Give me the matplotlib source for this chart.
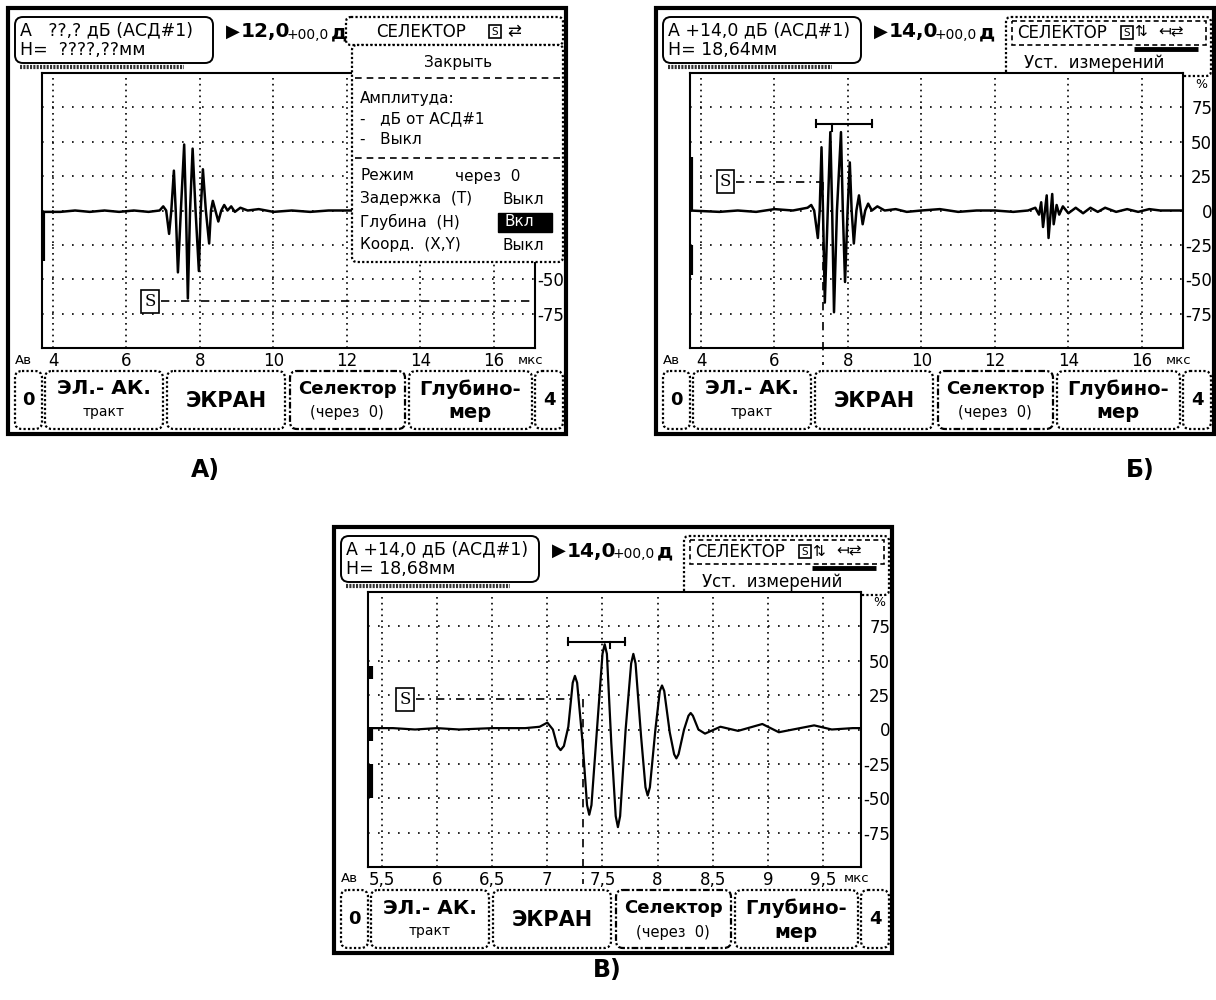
import matplotlib.pyplot as plt
from matplotlib.patches import Rectangle, FancyBboxPatch

# ---- values ----
ticks_ab = [4, 6, 8, 10, 12, 14, 16]
tick_labels_ab = ['4', '6', '8', '10', '12', '14', '16']
ticks_c = [5.5, 6, 6.5, 7, 7.5, 8, 8.5, 9, 9.5]
tick_labels_c = ['5,5', '6', '6,5', '7', '7,5', '8', '8,5', '9', '9,5']
amp_ticks = [75, 50, 25, 0, -25, -50, -75]
amp_labels = ['75', '50', '25', '0', '-25', '-50', '-75']
lim_ab = (3.70, 17.12)
lim_c = (5.373, 9.845)

# A-scan traces: time, us / amplitude, %
t_a = [3.70, 4.2, 4.6, 5.0, 5.4, 5.8, 6.2, 6.6, 6.9, 7.0, 7.08, 7.16, 7.22, 7.29, 7.34,
       7.40, 7.48, 7.57, 7.62, 7.67, 7.73, 7.80, 7.88, 7.97, 8.02, 8.08, 8.16, 8.25, 8.30,
       8.35, 8.42, 8.50, 8.58, 8.66, 8.75, 8.85, 8.95, 9.1, 9.3, 9.6, 10.0, 10.5, 11.0,
       11.5, 12.0, 13.0, 14.0, 15.0, 16.0, 17.12]
amp_a = [-1, -1, 0, -1, 0, -1, 0, -1, 0, 3, 0, -17, 0, 29, 0,
         -45, 0, 48, 0, -64, 0, 45, 0, -44, 0, 30, 0, -24, 0,
         7, 0, -8, 0, 4, 0, 3, -1, 2, 0, 1, -1, 0, -1,
         0, 0, 0, 0, 0, 0, 0]

t_b = [3.70, 4.5, 5.0, 5.5, 6.0, 6.5, 6.9, 7.0, 7.08, 7.18, 7.23, 7.28, 7.32, 7.37, 7.45,
       7.52, 7.57, 7.62, 7.70, 7.81, 7.86, 7.92, 7.99, 8.05, 8.10, 8.16, 8.23, 8.30, 8.35,
       8.40, 8.47, 8.55, 8.65, 8.8, 9.0, 9.3, 9.6, 10.0, 10.5, 11.0, 11.5, 12.0, 12.5,
       12.9, 13.1, 13.2, 13.26, 13.31, 13.41, 13.46, 13.56, 13.60, 13.68, 13.75, 13.85,
       14.0, 14.2, 14.4, 14.6, 14.8, 15.0, 15.3, 15.6, 15.9, 16.2, 16.5, 17.12]
amp_b = [0, -1, 0, -1, 1, 0, 2, 4, 0, -20, 0, 46, 0, -67, 0,
         57, 0, -74, 0, 57, 0, -52, 0, 35, 0, -24, 0, 11, 0,
         -10, 0, 5, 0, 3, 0, 1, -1, 0, 1, -1, 0, 0, -1,
         0, 2, -3, 6, -12, 11, -20, 12, -10, 4, -3, 3,
         -2, 2, -2, 2, -1, 2, -1, 1, -1, 1, 0, 0]

t_c = [5.373, 5.6, 5.8, 6.0, 6.2, 6.5, 6.8, 6.93, 7.00, 7.05, 7.09, 7.12, 7.15, 7.19,
       7.23, 7.25, 7.27, 7.32, 7.36, 7.38, 7.40, 7.45, 7.50, 7.52, 7.54, 7.58, 7.62, 7.64,
       7.66, 7.71, 7.76, 7.78, 7.80, 7.85, 7.89, 7.91, 7.93, 7.98, 8.02, 8.04, 8.06, 8.11,
       8.15, 8.17, 8.19, 8.24, 8.28, 8.30, 8.32, 8.37, 8.43, 8.57, 8.73, 8.95, 9.1, 9.42,
       9.58, 9.77, 9.845]
amp_c = [1, 1, 0, 1, 0, 1, 1, 2, 5, 0, -12, -15, -12, 2,
         34, 39, 34, -10, -55, -62, -55, 0, 55, 62, 55, -10, -63, -71,
         -63, 0, 48, 55, 48, -5, -42, -48, -42, 0, 28, 32, 28, -2,
         -18, -21, -18, 0, 10, 12, 10, 0, -3, 2, -1, 4, -2, 3,
         0, 1, 1]

# short marks at the left edge of each trace (start, end amplitude)
edge_a = [(0, -37)]
edge_b = [(39, 0), (-25, -47)]
edge_c = [(46, 37), (2, -8), (-25, -50)]

# selector gate: S marker time, gate level, gate end time
gate_a = (6.64, -66, 17.12)
gate_b = (4.67, 21, 7.27)
gate_c = (5.71, 22, 7.25)
cursor_t = 7.32                   # vertical gate line (B, C)
bracket_b = (7.12, 8.66, 7.57, 63)
bracket_c = (7.19, 7.70, 7.57, 64)

W, H = 1216, 1000
PW, PH = 558, 426

fig = plt.figure(figsize=(W / 100, H / 100), dpi=100)
bg = fig.add_axes([0, 0, 1, 1], zorder=0)
bg.set_xlim(0, W)
bg.set_ylim(H, 0)
bg.axis('off')
top = fig.add_axes([0, 0, 1, 1], zorder=3)
top.set_xlim(0, W)
top.set_ylim(H, 0)
top.axis('off')
top.patch.set_alpha(0)


def rbox(ax, x, y, w, h, ls='-', lw=1.4, r=6, fc='white'):
    ax.add_patch(FancyBboxPatch((x, y), w, h, boxstyle=f'round,pad=0,rounding_size={r}',
                                fc=fc, ec='k', lw=lw, ls=ls))


def header(ox, oy, info1, info2, gain, simple):
    rbox(bg, ox + 7, oy + 9, 198, 46, r=8)
    bg.text(ox + 12, oy + 22, info1, fontsize=12.5, va='center')
    bg.text(ox + 12, oy + 42, info2, fontsize=12.5, va='center')
    bg.plot([ox + 12, ox + 176], [oy + 58.5] * 2, color='0.2', lw=3, ls=(0, (0.5, 0.3)),
            solid_capstyle='butt')
    bg.text(ox + 218, oy + 24, '▶', fontsize=13, va='center')
    bg.text(ox + 233, oy + 24, gain, fontsize=14.5, fontweight='bold', va='center')
    bg.text(ox + 279, oy + 27, '+00,0', fontsize=10, va='center')
    bg.text(ox + 323, oy + 25, 'д', fontsize=14.5, fontweight='bold', va='center')
    if simple:
        rbox(bg, ox + 338, oy + 9, 217, 28, ls=(0, (1, 1)), lw=1.6, r=5)
        bg.text(ox + 368, oy + 24, 'СЕЛЕКТОР', fontsize=12, va='center')
        bg.add_patch(Rectangle((ox + 481, oy + 17), 12, 13, fill=False, lw=1.2))
        bg.text(ox + 487, oy + 24, 'S', fontsize=7.5, ha='center', va='center')
        bg.text(ox + 499, oy + 23, '⇄', fontsize=12, va='center')
    else:
        rbox(bg, ox + 350, oy + 9, 205, 59, ls=(0, (1, 1)), lw=1.6, r=5)
        bg.add_patch(Rectangle((ox + 356, oy + 13), 194, 24, fill=False, lw=1.2, ls=(0, (3, 2))))
        bg.text(ox + 361, oy + 25, 'СЕЛЕКТОР', fontsize=12, va='center')
        bg.add_patch(Rectangle((ox + 465, oy + 18), 12, 13, fill=False, lw=1.2))
        bg.text(ox + 471, oy + 25, 'S', fontsize=7.5, ha='center', va='center')
        bg.text(ox + 478, oy + 24, '⇅', fontsize=11, va='center')
        bg.text(ox + 502, oy + 24, '↤⇄', fontsize=11, va='center')
        bg.plot([ox + 478, ox + 542], [oy + 40.5] * 2, color='k', lw=3.5, solid_capstyle='butt')
        bg.text(ox + 368, oy + 55, 'Уст.  измерений', fontsize=12, va='center')


def buttons(ox, oy):
    y0, h = oy + 363, 58
    cells = [(7, 27), (37, 118), (159, 118), (282, 115), (401, 123), (527, 28)]
    for i, (x, w) in enumerate(cells):
        ls = (0, (3, 1, 1, 1)) if i == 3 else (0, (1, 1))
        rbox(bg, ox + x, y0, w, h, ls=ls, lw=1.6, r=7)
    bold = dict(fontweight='bold', ha='center', va='center')
    bg.text(ox + 20.5, y0 + 29, '0', fontsize=13, **bold)
    bg.text(ox + 96, y0 + 18, 'ЭЛ.- АК.', fontsize=14.5, **bold)
    bg.text(ox + 96, y0 + 41, 'тракт', fontsize=10, ha='center', va='center')
    bg.text(ox + 218, y0 + 30, 'ЭКРАН', fontsize=15, **bold)
    bg.text(ox + 339, y0 + 18, 'Селектор', fontsize=13, **bold)
    bg.text(ox + 339, y0 + 42, '(через  0)', fontsize=10.5, ha='center', va='center')
    bg.text(ox + 462, y0 + 18, 'Глубино-', fontsize=14, **bold)
    bg.text(ox + 462, y0 + 42, 'мер', fontsize=14, **bold)
    bg.text(ox + 541, y0 + 29, '4', fontsize=13, **bold)


def scope(ox, oy, lim, ticks, labels, t, amp, edges, gate, lw):
    x0, x1 = ox + 34, ox + 527
    y0, y1 = oy + 65, oy + 340
    ax = fig.add_axes([x0 / W, 1 - y1 / H, (x1 - x0) / W, (y1 - y0) / H], zorder=1)
    ax.set_xlim(*lim)
    ax.set_ylim(-100, 100)
    ax.set_xticks(ticks, labels)
    ax.set_yticks(amp_ticks, amp_labels)
    ax.yaxis.tick_right()
    ax.tick_params(length=0, labelsize=12)
    ax.tick_params(axis='x', pad=3)
    ax.tick_params(axis='y', pad=21)
    for lab in ax.get_yticklabels():
        lab.set_ha('right')
    ax.xaxis.grid(True, color='k', lw=1.2, ls=(0, (1, 2.5)))
    ax.yaxis.grid(True, color='k', lw=1.2, ls=(0, (1, 5)))
    for s in ax.spines.values():
        s.set_linewidth(1.5)
    ax.plot(t, amp, color='k', lw=lw)
    for a0, a1 in edges:
        ax.plot([lim[0] + 0.03] * 2, [a0, a1], color='k', lw=3, solid_capstyle='butt')
    ts, lvl, tend = gate
    ax.text(ts, lvl, 'S', family='DejaVu Serif', fontsize=12, ha='center', va='center',
            bbox=dict(boxstyle='square,pad=0.18', fc='white', ec='k', lw=1.2), zorder=4)
    span = lim[1] - lim[0]
    ax.plot([ts + span * 0.022, tend], [lvl, lvl], color='k', lw=1.2, ls=(0, (5, 3, 1, 3)))
    bg.text(ox + 7, oy + 352, 'Ав', fontsize=9.5, va='center')
    bg.text(ox + 510, oy + 352, 'мкс', fontsize=9.5, va='center')
    bg.text(ox + 545, oy + 76, '%', fontsize=9, ha='center', va='center')
    return ax


def measure(ax, gate, bracket):
    lvl = gate[1]
    ax.plot([cursor_t] * 2, [lvl, -112], color='k', lw=1.2, ls=(0, (5, 3, 1, 3)), clip_on=False)
    b0, b1, bc, by = bracket
    ax.plot([b0, b1], [by, by], color='k', lw=1.5)
    ax.plot([b0, b0], [by - 2.5, by + 2.5], color='k', lw=1.5)
    ax.plot([b1, b1], [by - 2.5, by + 2.5], color='k', lw=1.5)
    ax.plot([bc, bc], [by, by - 5], color='k', lw=1.5)


panels = [(8, 8), (656, 8), (334, 527)]
for ox, oy in panels:
    bg.add_patch(Rectangle((ox, oy), PW, PH, fill=False, lw=3))
    buttons(ox, oy)

# A) selector menu open
ox, oy = panels[0]
header(ox, oy, 'А   ??,? дБ (АСД#1)', 'Н=  ????,??мм', '12,0', True)
ax_a = scope(ox, oy, lim_ab, ticks_ab, tick_labels_ab, t_a, amp_a, edge_a, gate_a, 1.8)
# labels covered by the open menu
for lab in ax_a.get_yticklabels()[:5]:
    lab.set_visible(False)
rbox(top, ox + 344, oy + 37, 211, 217, ls=(0, (1, 1)), lw=1.6, r=5)
mfont = dict(fontsize=11, va='center')
top.text(ox + 450, oy + 54, 'Закрыть', ha='center', **mfont)
for yy in (70, 150):
    top.plot([ox + 347, ox + 552], [oy + yy] * 2, color='k', lw=1.2, ls=(0, (4, 3)))
top.text(ox + 352, oy + 90, 'Амплитуда:', **mfont)
top.text(ox + 352, oy + 111, '-   дБ от АСД#1', **mfont)
top.text(ox + 352, oy + 132, '-   Выкл', **mfont)
top.text(ox + 352, oy + 168, 'Режим', **mfont)
top.text(ox + 447, oy + 168, 'через  0', **mfont)
top.text(ox + 352, oy + 191, 'Задержка  (T)', **mfont)
top.text(ox + 495, oy + 191, 'Выкл', **mfont)
top.text(ox + 352, oy + 214, 'Глубина  (H)', **mfont)
top.add_patch(Rectangle((ox + 490, oy + 205), 54, 19, fc='black', ec='black'))
top.text(ox + 496, oy + 214, 'Вкл', color='white', **mfont)
top.text(ox + 352, oy + 237, 'Коорд.  (X,Y)', **mfont)
top.text(ox + 495, oy + 237, 'Выкл', **mfont)

# B) full range with second echo
ox, oy = panels[1]
header(ox, oy, 'А +14,0 дБ (АСД#1)', 'Н= 18,64мм', '14,0', False)
ax_b = scope(ox, oy, lim_ab, ticks_ab, tick_labels_ab, t_b, amp_b, edge_b, gate_b, 1.8)
measure(ax_b, gate_b, bracket_b)

# C) zoomed first echo
ox, oy = panels[2]
header(ox, oy, 'А +14,0 дБ (АСД#1)', 'Н= 18,68мм', '14,0', False)
ax_c = scope(ox, oy, lim_c, ticks_c, tick_labels_c, t_c, amp_c, edge_c, gate_c, 1.6)
measure(ax_c, gate_c, bracket_c)

lab = dict(fontsize=17, fontweight='bold', ha='center', va='center')
bg.text(205, 470, 'А)', **lab)
bg.text(1140, 470, 'Б)', **lab)
bg.text(607, 970, 'В)', **lab)

fig.savefig('out.png', dpi=100)
